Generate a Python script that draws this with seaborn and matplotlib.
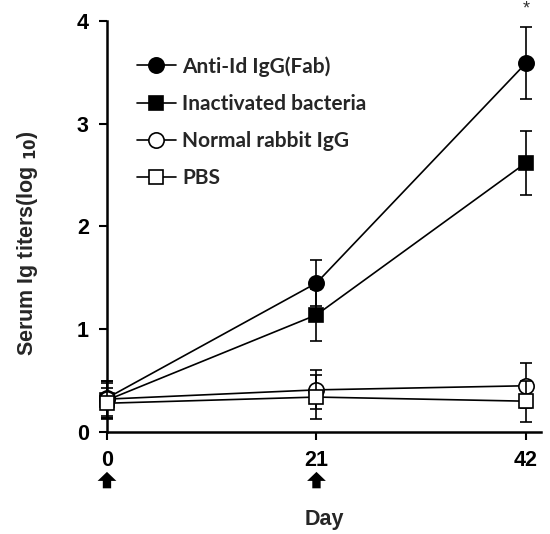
import matplotlib
matplotlib.use('Agg')
import matplotlib.pyplot as plt
import numpy as np
import pandas as pd
import seaborn as sns

# данные
days = [0, 21, 42]
groups = ['Anti-Id IgG(Fab)', 'Inactivated bacteria', 'Normal rabbit IgG', 'PBS']
anti_id = [0.33, 1.45, 3.59]
anti_id_err = [0.17, 0.22, 0.35]
inactivated = [0.31, 1.14, 2.62]
inactivated_err = [0.17, 0.25, 0.31]
normal_igg = [0.32, 0.41, 0.45]
normal_igg_err = [0.18, 0.19, 0.22]
pbs = [0.28, 0.34, 0.30]
pbs_err = [0.15, 0.21, 0.20]

values = [anti_id, inactivated, normal_igg, pbs]
errors = [anti_id_err, inactivated_err, normal_igg_err, pbs_err]
markers = ['o', 's', 'o', 's']
facecolors = ['black', 'black', 'white', 'white']

data = pd.DataFrame({
    'Day': np.tile(days, len(groups)),
    'titer': np.concatenate(values),
    'err': np.concatenate(errors),
    'group': np.repeat(groups, len(days)),
})

sns.set_theme(style='ticks')
plt.rcParams['font.family'] = ['Liberation Sans', 'DejaVu Sans']

fig = plt.figure(figsize=(5.5, 5.34), dpi=100)
ax = fig.add_axes([0.1945, 0.191, 0.789, 0.7697])

for i, (name, m, fc) in enumerate(zip(groups, markers, facecolors)):
    sub = data[data['group'] == name]
    ax.errorbar(sub['Day'], sub['titer'], yerr=sub['err'], fmt='none',
                ecolor='black', elinewidth=1.2, capsize=4, capthick=1.2,
                zorder=2 + i, clip_on=False)
    sns.lineplot(data=sub, x='Day', y='titer', ax=ax, color='black',
                 linewidth=1.2, marker=m, markersize=11 if m == 'o' else 10.5,
                 markerfacecolor=fc, markeredgecolor='black',
                 markeredgewidth=1.2, label=name, zorder=3 + i,
                 clip_on=False)

ax.set_xlim(0, 43.5)
ax.set_ylim(0, 4)
ax.set_xticks(days)
ax.set_yticks([0, 1, 2, 3, 4])
ax.tick_params(axis='both', direction='out', length=6, width=1.5,
               labelsize=15.5, colors='black', pad=7)
for lab in ax.get_xticklabels() + ax.get_yticklabels():
    lab.set_fontweight('bold')
for s in ['left', 'bottom']:
    ax.spines[s].set_linewidth(1.8)
    ax.spines[s].set_color('black')
sns.despine(ax=ax)

ax.set_xlabel('Day', fontsize=15.5, fontweight='bold', labelpad=27)
ax.set_ylabel(r'Serum Ig titers(log $_{\mathbf{10}}$)', fontsize=15.5,
              fontweight='bold')
ax.yaxis.set_label_coords(-0.155, 0.46)

# звездочка над последней точкой
ax.text(42, 4.03, '*', ha='center', va='bottom', fontsize=13, color='#333333')

# стрелки иммунизации
for d in [0, 21]:
    ax.annotate('', xy=(d, -0.097), xytext=(d, -0.137),
                xycoords=('data', 'axes fraction'),
                textcoords=('data', 'axes fraction'),
                arrowprops=dict(arrowstyle='simple,head_width=1.35,head_length=0.65,tail_width=0.6',
                                mutation_scale=10, shrinkA=0, shrinkB=0,
                                color='black', lw=0))

leg = ax.legend(loc='upper left', bbox_to_anchor=(0.025, 0.96), frameon=False,
                handlelength=1.9, handletextpad=0.3, labelspacing=0.82,
                prop={'family': 'Lato', 'weight': 'bold', 'size': 15})

fig.savefig('out.png', dpi=100)
